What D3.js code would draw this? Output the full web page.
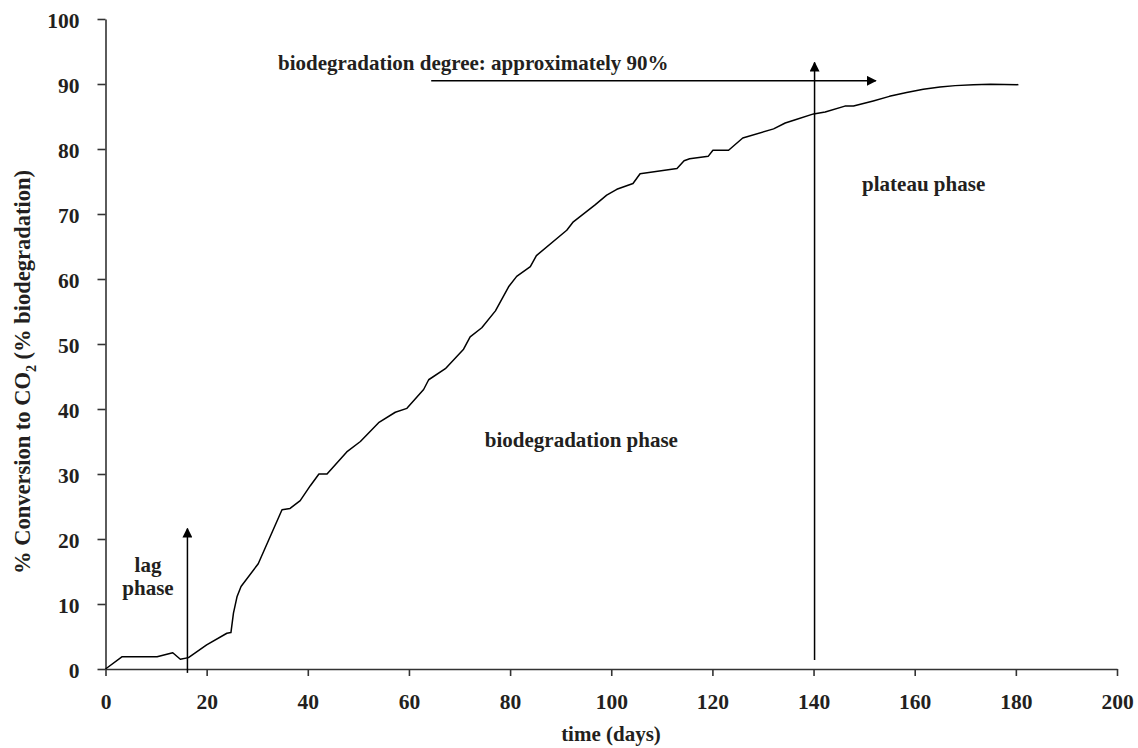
<!DOCTYPE html>
<html>
<head>
<meta charset="utf-8">
<script src="https://cdn.jsdelivr.net/npm/d3@7"></script>
<style>
  html, body { margin: 0; padding: 0; background: #fff; }
  svg text { font-family: "Liberation Serif", "Times New Roman", serif; font-weight: bold; fill: #231f20; }
</style>
</head>
<body>
<svg id="chart" width="1138" height="748"></svg>
<script>
// ---- data ----
const days = [0, 3.3, 10.2, 13.3, 14.8, 16.4, 20, 24, 24.8, 25.3, 26, 26.8, 30.2, 34.9, 36.5, 38.5, 40.5,
  42.2, 43.8, 47.7, 50.4, 54, 57.3, 59.6, 62.9, 63.9, 67.2, 70.8, 72.1, 74.4, 77.1, 79.7, 81.3, 84, 85.2,
  91.2, 92.5, 96.8, 99.1, 101.1, 104.3, 105.7, 113, 114.4, 115.5, 119.2, 120.1, 123.2, 126, 132.1, 134.4,
  136.4, 140, 142.3, 146.2, 147.9, 151.8, 155, 158.4, 161.7, 165, 168, 171.6, 175, 180.5];
const conversion = [0, 1.9, 1.9, 2.5, 1.5, 1.75, 3.7, 5.5, 5.6, 8.6, 11.1, 12.7, 16.2, 24.5, 24.7, 25.9, 28.2,
  30, 30, 33.4, 35, 37.9, 39.5, 40.1, 43, 44.5, 46.2, 49.2, 51.1, 52.5, 55.1, 58.8, 60.4, 61.9, 63.6,
  67.5, 68.8, 71.4, 72.9, 73.8, 74.7, 76.2, 77, 78.2, 78.5, 78.9, 79.8, 79.8, 81.7, 83.1, 84,
  84.5, 85.4, 85.7, 86.6, 86.6, 87.4, 88.1, 88.7, 89.2, 89.55, 89.75, 89.9, 89.95, 89.9];
const xTicks = [0, 20, 40, 60, 80, 100, 120, 140, 160, 180, 200];
const yTicks = [0, 10, 20, 30, 40, 50, 60, 70, 80, 90, 100];

// annotations (data units)
const arrowLag = { x: 16.2, y0: -0.6, y1: 21.6 };
const arrowPlateau = { x: 140.2, y0: 1.4, y1: 93.3 };
const arrowDegree = { y: 90.5, x0: 64.4, x1: 152.3 };
const labels = [
  { text: "biodegradation degree: approximately 90%", x: 34.1, y: 92.2, anchor: "start" },
  { text: "plateau phase", x: 149.6, y: 73.5, anchor: "start" },
  { text: "biodegradation phase", x: 75.0, y: 34.1, anchor: "start" }
];
const lagLines = ["lag", "phase"];

// ---- chart ----
const svg = d3.select("#chart");
const x = d3.scaleLinear().domain([0, 200]).range([105.5, 1117]);
const y = d3.scaleLinear().domain([0, 100]).range([669, 19]);
const axisColor = "#333";

const gx = svg.append("g").attr("transform", `translate(0,${y(0)})`)
  .call(d3.axisBottom(x).tickValues(xTicks).tickSize(7).tickPadding(18).tickSizeOuter(0));
const gy = svg.append("g").attr("transform", `translate(${x(0)},0)`)
  .call(d3.axisLeft(y).tickValues(yTicks).tickSize(8).tickPadding(18).tickSizeOuter(0));
[gx, gy].forEach(g => {
  g.select(".domain").attr("stroke", axisColor).attr("stroke-width", 1.6);
  g.selectAll(".tick line").attr("stroke", axisColor).attr("stroke-width", 1.6);
  g.selectAll(".tick text").style("font-size", "21.5px").attr("fill", "#231f20");
});
gy.selectAll(".tick text").attr("dy", "0.40em");

// axis titles
svg.append("text").attr("x", 611).attr("y", 741).attr("text-anchor", "middle")
  .style("font-size", "21px").text("time (days)");
const yt = svg.append("text").attr("transform", "translate(30,372) rotate(-90)")
  .attr("text-anchor", "middle").style("font-size", "22.5px");
yt.append("tspan").text("% Conversion to CO");
yt.append("tspan").attr("dy", 6).style("font-size", "14px").text("2");
yt.append("tspan").attr("dy", -6).text("\u00a0(% biodegradation)");

// curve
const line = d3.line().x(d => x(d[0])).y(d => y(d[1]));
svg.append("path").datum(days.map((d, i) => [d, conversion[i]]))
  .attr("d", line).attr("fill", "none").attr("stroke", "#000").attr("stroke-width", 1.5)
  .attr("stroke-linejoin", "round");

// arrows
const defs = svg.append("defs");
defs.append("marker").attr("id", "ah").attr("viewBox", "0 0 10 10").attr("refX", 9).attr("refY", 5)
  .attr("markerWidth", 10).attr("markerHeight", 10).attr("markerUnits", "userSpaceOnUse")
  .attr("orient", "auto")
  .append("path").attr("d", "M0,0 L10,5 L0,10 Z").attr("fill", "#000");

function vArrow(a) {
  svg.append("line").attr("x1", x(a.x)).attr("x2", x(a.x)).attr("y1", y(a.y0)).attr("y2", y(a.y1))
    .attr("stroke", "#000").attr("stroke-width", 1.5).attr("marker-end", "url(#ah)");
}
vArrow(arrowLag);
vArrow(arrowPlateau);
svg.append("line").attr("x1", x(arrowDegree.x0)).attr("x2", x(arrowDegree.x1))
  .attr("y1", y(arrowDegree.y)).attr("y2", y(arrowDegree.y))
  .attr("stroke", "#000").attr("stroke-width", 1.5).attr("marker-end", "url(#ah)");

// labels
labels.forEach(l => {
  svg.append("text").attr("x", x(l.x)).attr("y", y(l.y)).attr("text-anchor", l.anchor)
    .style("font-size", "21px").text(l.text);
});
lagLines.forEach((t, i) => {
  svg.append("text").attr("x", 148).attr("y", 572 + i * 23).attr("text-anchor", "middle")
    .style("font-size", "21px").text(t);
});
</script>
</body>
</html>
